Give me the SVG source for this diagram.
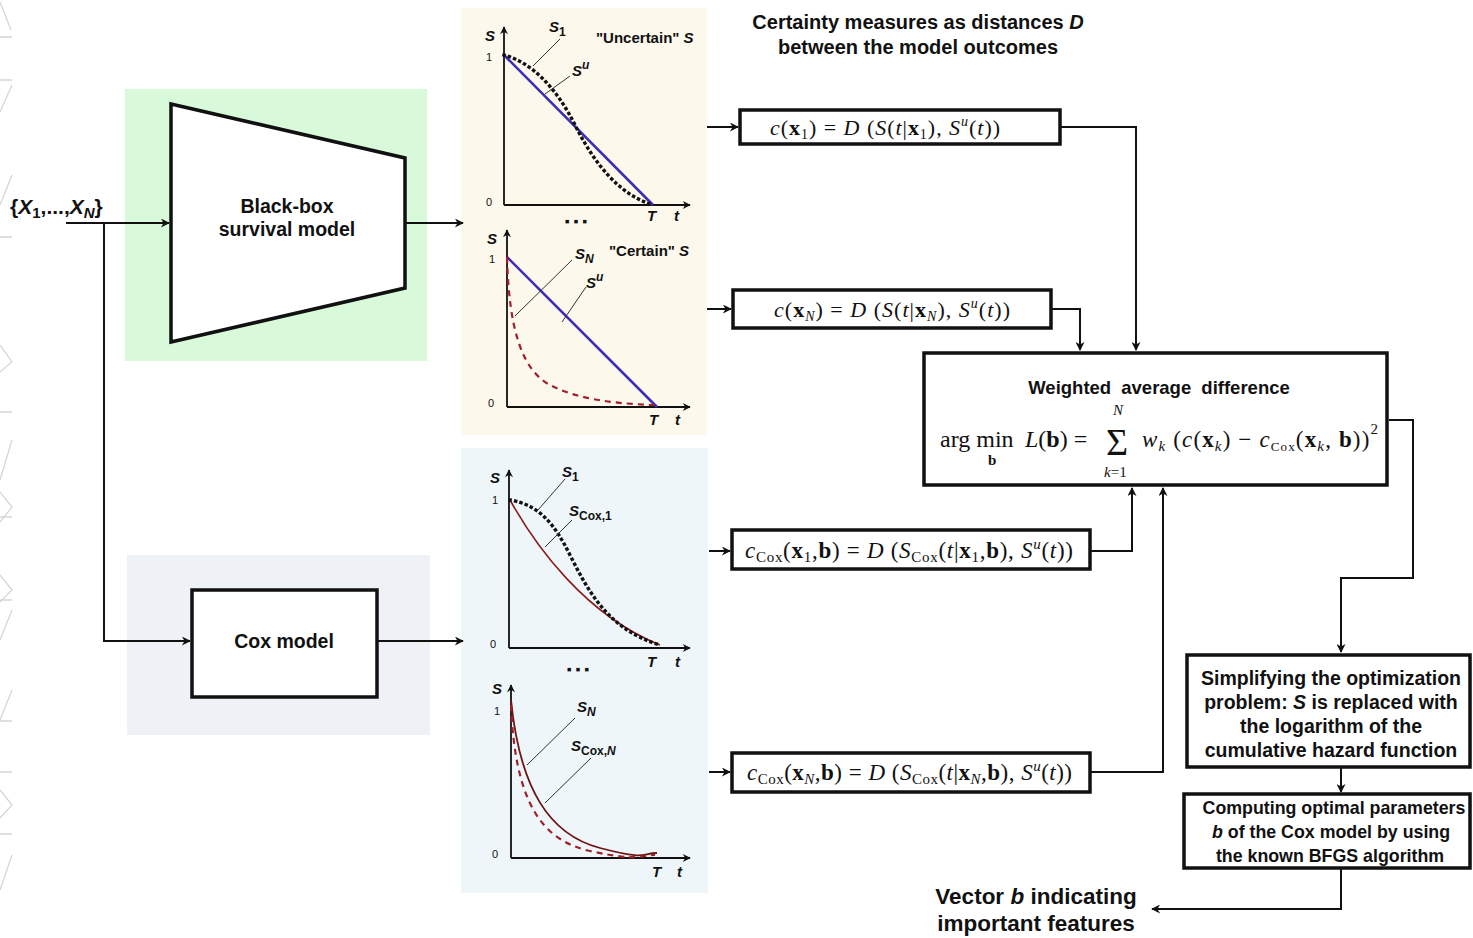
<svg xmlns="http://www.w3.org/2000/svg" width="1473" height="938" viewBox="0 0 1473 938">
<defs>
<marker id="arr" viewBox="0 0 10 10" refX="9" refY="5" markerUnits="userSpaceOnUse" markerWidth="11" markerHeight="9" orient="auto">
<path d="M0,0 L10,5 L0,10 L3,5 z" fill="#111"/>
</marker>
<marker id="ax" viewBox="0 0 10 10" refX="9" refY="5" markerUnits="userSpaceOnUse" markerWidth="10" markerHeight="8" orient="auto">
<path d="M0,0 L10,5 L0,10 L3,5 z" fill="#111"/>
</marker>
<style>
.lbl{font-family:"Liberation Sans",Arial,sans-serif;font-weight:bold;fill:#111;}
.big{font-size:19.5px;text-anchor:middle;}
.m{font-family:"Liberation Serif","Times New Roman",serif;fill:#111;}
.i{font-style:italic;}
.b{font-weight:bold;}
.box{fill:#fff;stroke:#111;stroke-width:3.5;}
.con{fill:none;stroke:#111;stroke-width:2;}
.axis{fill:none;stroke:#111;stroke-width:1.8;}
.lead{fill:none;stroke:#333;stroke-width:1;}
.pl{font-family:"Liberation Sans",Arial,sans-serif;font-size:15px;font-weight:bold;font-style:italic;fill:#111;}
.tick{font-family:"Liberation Sans",Arial,sans-serif;font-size:11px;fill:#111;}
.wm{fill:none;stroke:#d6d6d6;stroke-width:1.3;}
</style>
</defs>
<rect width="1473" height="938" fill="#fff"/>
<path class="wm" d="M0,2 L11,30 M0,37 H12 M0,80 H12 M12,85 L0,112 M12,175 L0,205 M0,237 H12 M0,345 L12,362 L0,372 M0,412 H12 M12,440 L0,480 M0,492 L12,507 L0,522 M0,517 H12 M0,575 L12,590 L0,602 M0,600 H12 M12,610 L0,640 M12,690 L0,720 M0,721 H12 M0,772 H12 M0,790 L12,805 L0,818 M0,834 H12 M12,855 L0,890"/>

<!-- background panels -->
<rect id="bb-bg" x="125" y="89" width="302" height="272" fill="#d8f9da"/>
<rect id="cox-bg" x="127" y="555" width="303" height="180" fill="#eef1f5"/>
<rect id="plots-top-bg" x="461" y="8" width="246" height="427" fill="#fcf8ec"/>
<rect id="plots-bot-bg" x="461" y="448" width="247" height="445" fill="#eef6fa"/>

<!-- header -->
<g id="header">
<text class="lbl" x="918" y="29" font-size="20" text-anchor="middle">Certainty measures as distances <tspan font-style="italic">D</tspan></text>
<text class="lbl" x="918" y="54" font-size="20" text-anchor="middle">between the model outcomes</text>
</g>

<!-- input -->
<g id="input">
<text class="lbl" x="10" y="214" font-size="21">{<tspan font-style="italic">X</tspan><tspan font-size="15" dy="4">1</tspan><tspan dy="-4">,...,</tspan><tspan font-style="italic">X</tspan><tspan font-size="15" font-style="italic" dy="4">N</tspan><tspan dy="-4">}</tspan></text>
</g>

<!-- black box -->
<g id="blackbox">
<polygon points="171,104 405,158 405,288 171,342" fill="#fff" stroke="#111" stroke-width="3.5" stroke-linejoin="miter"/>
<text class="lbl big" x="287" y="213">Black-box</text>
<text class="lbl big" x="287" y="236">survival model</text>
</g>

<!-- cox model -->
<g id="coxmodel">
<rect class="box" x="192" y="590" width="185" height="107"/>
<text class="lbl big" x="284" y="648">Cox model</text>
</g>

<!-- plot 1 -->
<g id="plot-uncertain">
<path class="axis" d="M504,205 V27" marker-end="url(#ax)"/>
<path class="axis" d="M504,205 H690" marker-end="url(#ax)"/>
<text class="pl" x="485" y="41">S</text>
<text class="tick" x="486" y="61">1</text>
<text class="tick" x="486" y="206">0</text>
<text class="pl" x="647" y="221">T</text>
<text class="pl" x="674" y="221" font-weight="normal">t</text>
<path d="M504,55 L653,205" stroke="#3b2db5" stroke-width="2.6" fill="none"/>
<path d="M504,55 C530,62 555,85 575,125 C595,165 620,195 653,205" stroke="#111" stroke-width="3.4" stroke-dasharray="0.1,5.5" stroke-linecap="square" fill="none"/>
<path class="lead" d="M560,39 L533,66"/>
<path class="lead" d="M570,76 L545,94"/>
<text class="pl" x="549" y="32">S<tspan font-size="12" font-style="normal" dy="4">1</tspan></text>
<text class="pl" x="572" y="76">S<tspan font-size="12" dy="-7">u</tspan></text>
<text class="lbl" x="596" y="43" font-size="15">"Uncertain" <tspan font-style="italic">S</tspan></text>
<text class="lbl" x="576" y="226" font-size="14" text-anchor="middle">▪  ▪  ▪</text>
</g>

<!-- plot 2 -->
<g id="plot-certain">
<path class="axis" d="M507,407 V230" marker-end="url(#ax)"/>
<path class="axis" d="M507,407 H690" marker-end="url(#ax)"/>
<text class="pl" x="487" y="244">S</text>
<text class="tick" x="489" y="263">1</text>
<text class="tick" x="488" y="407">0</text>
<text class="pl" x="649" y="425">T</text>
<text class="pl" x="675" y="425" font-weight="normal">t</text>
<path d="M507,257 L657,407" stroke="#3b2db5" stroke-width="2.6" fill="none"/>
<path d="M507,257 C509,330 522,370 550,385 S620,404 655,405" stroke="#a0202a" stroke-width="2.2" stroke-dasharray="6,5" fill="none"/>
<path class="lead" d="M572,260 L515,316"/>
<path class="lead" d="M586,287 L562,322"/>
<text class="pl" x="575" y="259">S<tspan font-size="12" dy="4">N</tspan></text>
<text class="pl" x="586" y="288">S<tspan font-size="12" dy="-7">u</tspan></text>
<text class="lbl" x="609" y="256" font-size="15">"Certain" <tspan font-style="italic">S</tspan></text>
</g>

<!-- plot 3 -->
<g id="plot-cox1">
<path class="axis" d="M509,648 V470" marker-end="url(#ax)"/>
<path class="axis" d="M509,648 H690" marker-end="url(#ax)"/>
<text class="pl" x="490" y="483">S</text>
<text class="tick" x="492" y="504">1</text>
<text class="tick" x="490" y="648">0</text>
<text class="pl" x="647" y="667">T</text>
<text class="pl" x="675" y="667" font-weight="normal">t</text>
<path d="M510,500 C535,545 585,615 660,645" stroke="#8b1a1a" stroke-width="1.6" fill="none"/>
<path d="M510,500 C540,505 555,525 570,555 C590,595 610,630 660,645" stroke="#111" stroke-width="3.4" stroke-dasharray="0.1,5.5" stroke-linecap="square" fill="none"/>
<path class="lead" d="M565,479 L538,510"/>
<path class="lead" d="M572,520 L545,547"/>
<text class="pl" x="562" y="477">S<tspan font-size="12" font-style="normal" dy="4">1</tspan></text>
<text class="pl" x="569" y="516">S<tspan font-size="12" font-style="normal" dy="4">Cox,1</tspan></text>
<text class="lbl" x="578" y="674" font-size="14" text-anchor="middle">▪  ▪  ▪</text>
</g>

<!-- plot 4 -->
<g id="plot-coxN">
<path class="axis" d="M511,858 V685" marker-end="url(#ax)"/>
<path class="axis" d="M511,858 H690" marker-end="url(#ax)"/>
<text class="pl" x="492" y="694">S</text>
<text class="tick" x="494" y="715">1</text>
<text class="tick" x="492" y="858">0</text>
<text class="pl" x="652" y="877">T</text>
<text class="pl" x="677" y="877" font-weight="normal">t</text>
<path d="M511,700 C520,790 550,835 600,848 S640,853 657,853" stroke="#6e1414" stroke-width="1.8" fill="none"/>
<path d="M511,705 C515,800 540,840 590,851 S640,855 655,855" stroke="#a0202a" stroke-width="2.2" stroke-dasharray="6,5" fill="none"/>
<path class="lead" d="M575,718 L527,765"/>
<path class="lead" d="M591,758 L545,803"/>
<text class="pl" x="577" y="712">S<tspan font-size="12" dy="4">N</tspan></text>
<text class="pl" x="571" y="751">S<tspan font-size="12" font-style="normal" dy="4">Cox,<tspan font-style="italic">N</tspan></tspan></text>
</g>

<!-- formula boxes -->
<g id="c1">
<rect class="box" x="740" y="110" width="320" height="34"/>
<text class="m" x="770" y="135" font-size="22" textLength="230" lengthAdjust="spacing"><tspan class="i">c</tspan>(<tspan class="b">x</tspan><tspan font-size="14" dy="4">1</tspan><tspan dy="-4">) = </tspan><tspan class="i">D</tspan> (<tspan class="i">S</tspan>(<tspan class="i">t</tspan>|<tspan class="b">x</tspan><tspan font-size="14" dy="4">1</tspan><tspan dy="-4">), </tspan><tspan class="i">S</tspan><tspan class="i" font-size="14" dy="-9">u</tspan><tspan dy="9">(</tspan><tspan class="i">t</tspan>))</text>
</g>
<g id="cN">
<rect class="box" x="733" y="290" width="318" height="38"/>
<text class="m" x="774" y="317" font-size="22" textLength="236" lengthAdjust="spacing"><tspan class="i">c</tspan>(<tspan class="b">x</tspan><tspan class="i" font-size="14" dy="4">N</tspan><tspan dy="-4">) = </tspan><tspan class="i">D</tspan> (<tspan class="i">S</tspan>(<tspan class="i">t</tspan>|<tspan class="b">x</tspan><tspan class="i" font-size="14" dy="4">N</tspan><tspan dy="-4">), </tspan><tspan class="i">S</tspan><tspan class="i" font-size="14" dy="-9">u</tspan><tspan dy="9">(</tspan><tspan class="i">t</tspan>))</text>
</g>
<g id="cox1">
<rect class="box" x="732" y="530" width="358" height="39"/>
<text class="m" x="745" y="558" font-size="23" textLength="328" lengthAdjust="spacing"><tspan class="i">c</tspan><tspan font-size="15" dy="4">Cox</tspan><tspan dy="-4">(</tspan><tspan class="b">x</tspan><tspan font-size="15" dy="4">1</tspan><tspan dy="-4">,</tspan><tspan class="b">b</tspan>) = <tspan class="i">D</tspan> (<tspan class="i">S</tspan><tspan font-size="15" dy="4">Cox</tspan><tspan dy="-4">(</tspan><tspan class="i">t</tspan>|<tspan class="b">x</tspan><tspan font-size="15" dy="4">1</tspan><tspan dy="-4">,</tspan><tspan class="b">b</tspan>), <tspan class="i">S</tspan><tspan class="i" font-size="15" dy="-9">u</tspan><tspan dy="9">(</tspan><tspan class="i">t</tspan>))</text>
</g>
<g id="coxN">
<rect class="box" x="732" y="753" width="358" height="39"/>
<text class="m" x="747" y="780" font-size="23" textLength="325" lengthAdjust="spacing"><tspan class="i">c</tspan><tspan font-size="15" dy="4">Cox</tspan><tspan dy="-4">(</tspan><tspan class="b">x</tspan><tspan class="i" font-size="15" dy="4">N</tspan><tspan dy="-4">,</tspan><tspan class="b">b</tspan>) = <tspan class="i">D</tspan> (<tspan class="i">S</tspan><tspan font-size="15" dy="4">Cox</tspan><tspan dy="-4">(</tspan><tspan class="i">t</tspan>|<tspan class="b">x</tspan><tspan class="i" font-size="15" dy="4">N</tspan><tspan dy="-4">,</tspan><tspan class="b">b</tspan>), <tspan class="i">S</tspan><tspan class="i" font-size="15" dy="-9">u</tspan><tspan dy="9">(</tspan><tspan class="i">t</tspan>))</text>
</g>

<!-- weighted -->
<g id="weighted">
<rect class="box" x="924" y="353" width="463" height="132"/>
<text class="lbl" x="1159" y="394" font-size="18.5" text-anchor="middle" word-spacing="5">Weighted average difference</text>
<text class="m" x="940" y="447" font-size="24">arg min</text>
<text class="m b" x="988" y="465" font-size="15">b</text>
<text class="m" x="1025" y="447" font-size="24"><tspan class="i">L</tspan>(<tspan class="b">b</tspan>) =</text>
<text class="m" x="1106" y="455" font-size="38">Σ</text>
<text class="m i" x="1113" y="415" font-size="15">N</text>
<text class="m" x="1104" y="477" font-size="15"><tspan class="i">k</tspan>=1</text>
<text class="m" x="1142" y="447" font-size="23" textLength="236" lengthAdjust="spacing"><tspan class="i">w</tspan><tspan class="i" font-size="15" dy="4">k</tspan><tspan dy="-4"> (</tspan><tspan class="i">c</tspan>(<tspan class="b">x</tspan><tspan class="i" font-size="15" dy="4">k</tspan><tspan dy="-4">) − </tspan><tspan class="i">c</tspan><tspan font-size="13" dy="4">Cox</tspan><tspan dy="-4">(</tspan><tspan class="b">x</tspan><tspan class="i" font-size="15" dy="4">k</tspan><tspan dy="-4">, </tspan><tspan class="b">b</tspan>))<tspan font-size="15" dy="-13">2</tspan></text>
</g>

<!-- right flow -->
<g id="simplify">
<rect class="box" x="1187" y="655" width="283" height="112"/>
<text class="lbl big" x="1331" y="685">Simplifying the optimization</text>
<text class="lbl big" x="1331" y="709">problem: <tspan font-style="italic">S</tspan> is replaced with</text>
<text class="lbl big" x="1331" y="733">the logarithm of the</text>
<text class="lbl big" x="1331" y="757">cumulative hazard function</text>
</g>
<g id="computing">
<rect class="box" x="1184" y="794" width="286" height="74"/>
<text class="lbl" x="1334" y="814" font-size="17.8" text-anchor="middle">Computing optimal parameters</text>
<text class="lbl" x="1331" y="838" font-size="17.8" text-anchor="middle"><tspan font-style="italic">b</tspan> of the Cox model by using</text>
<text class="lbl" x="1330" y="862" font-size="17.8" text-anchor="middle">the known BFGS algorithm</text>
</g>
<g id="result">
<text class="lbl" x="1036" y="904" font-size="22.5" text-anchor="middle">Vector <tspan font-style="italic">b</tspan>  indicating</text>
<text class="lbl" x="1036" y="931" font-size="22.5" text-anchor="middle">important features</text>
</g>

<!-- connectors -->
<g id="connectors">
<path class="con" d="M66,223 H169" marker-end="url(#arr)"/>
<path class="con" d="M104,223 V641 H190" marker-end="url(#arr)"/>
<path class="con" d="M405,223 H463" marker-end="url(#arr)"/>
<path class="con" d="M377,641 H463" marker-end="url(#arr)"/>
<path class="con" d="M707,127 H738" marker-end="url(#arr)"/>
<path class="con" d="M707,309 H731" marker-end="url(#arr)"/>
<path class="con" d="M709,551 H730" marker-end="url(#arr)"/>
<path class="con" d="M709,772 H730" marker-end="url(#arr)"/>
<path class="con" d="M1060,127 H1136 V350" marker-end="url(#arr)"/>
<path class="con" d="M1051,309 H1080 V350" marker-end="url(#arr)"/>
<path class="con" d="M1090,551 H1132 V488" marker-end="url(#arr)"/>
<path class="con" d="M1090,772 H1163 V488" marker-end="url(#arr)"/>
<path class="con" d="M1389,420 H1413 V578 H1341 V652" marker-end="url(#arr)"/>
<path class="con" d="M1341,767 V792" marker-end="url(#arr)"/>
<path class="con" d="M1341,868 V909 H1152" marker-end="url(#arr)"/>
</g>
</svg>
